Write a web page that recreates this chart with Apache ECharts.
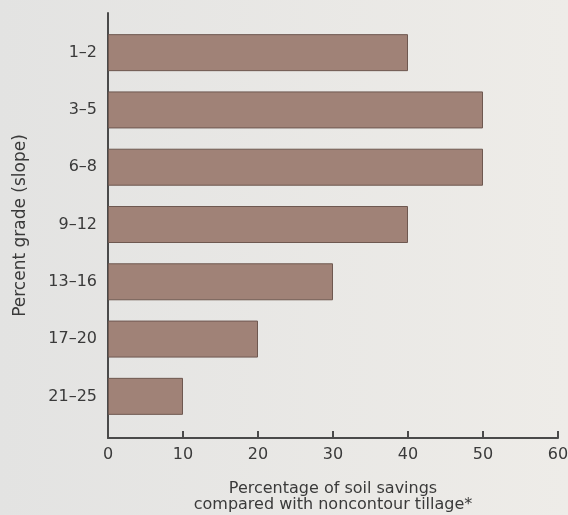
<!DOCTYPE html>
<html><head><meta charset="utf-8">
<script src="https://cdn.jsdelivr.net/npm/echarts@6/dist/echarts.min.js"></script>
<style>html,body{margin:0;padding:0;background:#e7e6e3;}#c{width:568px;height:515px;}</style>
</head><body><div id="c"></div>
<script>
const categories = ['1–2','3–5','6–8','9–12','13–16','17–20','21–25'];
const savings = [40, 50, 50, 40, 30, 20, 10];
const xTicks = [0, 10, 20, 30, 40, 50, 60];

const font = '"DejaVu Sans", sans-serif';
const chart = echarts.init(document.getElementById('c'));
chart.setOption({
  backgroundColor: {type:'linear', x:0, y:0, x2:1, y2:0, colorStops:[{offset:0,color:'#e3e3e2'},{offset:1,color:'#eeece8'}]},
  animation: false,
  grid: [
    {left:108, width:450, top:24, height:401, containLabel:false, outerBoundsMode:'none'},
    {left:108, width:450, top:13, height:425, containLabel:false, outerBoundsMode:'none'}
  ],
  xAxis: [
    {gridIndex:0, type:'value', min:xTicks[0], max:xTicks[xTicks.length-1], interval:10, show:false},
    {gridIndex:1, type:'value', min:xTicks[0], max:xTicks[xTicks.length-1], interval:10,
     name:'Percentage of soil savings\ncompared with noncontour tillage*', nameLocation:'middle', nameGap:43,
     nameTextStyle:{fontFamily:font, fontSize:16, color:'#3a3a3a', lineHeight:16},
     axisLine:{lineStyle:{color:'#4a4a4a', width:2}},
     axisTick:{inside:true, length:7, lineStyle:{color:'#4a4a4a', width:2}},
     axisLabel:{fontFamily:font, fontSize:16, color:'#3a3a3a', margin:9},
     splitLine:{show:false}}
  ],
  yAxis: [
    {gridIndex:0, type:'category', data:categories, inverse:true,
     axisLine:{show:false}, axisTick:{show:false},
     axisLabel:{fontFamily:font, fontSize:16, color:'#3a3a3a', margin:11}},
    {gridIndex:1, type:'value', min:0, max:1,
     name:'Percent grade (slope)', nameLocation:'middle', nameGap:79, nameRotate:90,
     nameTextStyle:{fontFamily:font, fontSize:17, color:'#3a3a3a'},
     axisLine:{show:true, lineStyle:{color:'#4a4a4a', width:2}},
     axisTick:{show:false}, axisLabel:{show:false}, splitLine:{show:false}}
  ],
  series: [{
    type:'bar', xAxisIndex:0, yAxisIndex:0, data:savings, barWidth:37,
    itemStyle:{color:'#a08277', borderColor:'#6e5850', borderWidth:1}
  }]
});
</script>
</body></html>
